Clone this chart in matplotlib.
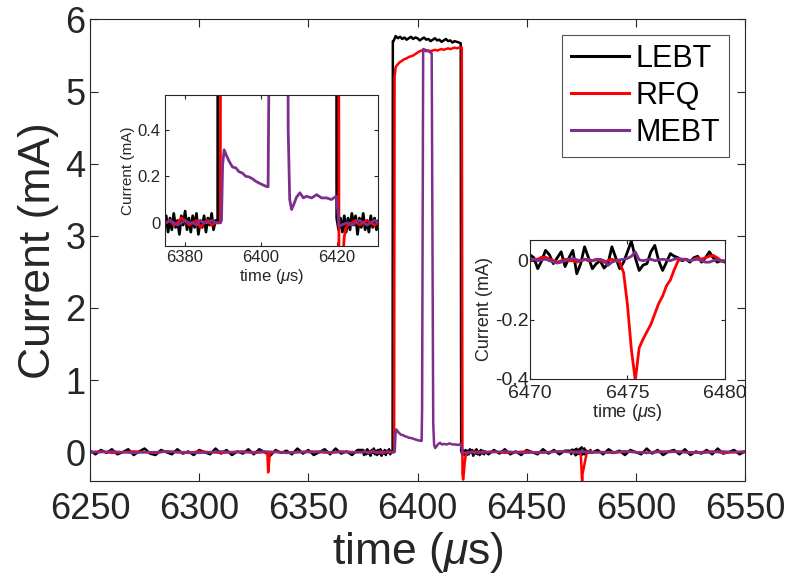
import numpy as np
import matplotlib
matplotlib.use("Agg")
import matplotlib.pyplot as plt
from matplotlib.ticker import FuncFormatter

plt.rcParams['font.family'] = ['Liberation Sans', 'DejaVu Sans']
plt.rcParams['mathtext.fontset'] = 'custom'
plt.rcParams['mathtext.rm'] = 'Liberation Sans'
plt.rcParams['mathtext.it'] = 'Liberation Sans:italic'

# ---------------------------------------------------------------- sample times (us)
t_left = np.arange(6250.0, 6375.0, 2.5)      # coarse, before the pulse
t_mid = np.arange(6432.5, 6470.0, 2.5)       # coarse, between pulse and glitch
t_right = np.arange(6482.5, 6550.1, 2.5)     # coarse, tail
t_pre = np.arange(6375.0, 6388.6, 0.5)       # fine, just before the pulse
t_post = np.arange(6422.0, 6431.1, 0.5)      # fine, just after the pulse
t_zoom = np.linspace(6470.0, 6480.0, 51)     # fine, around the RFQ glitch

t_left5 = np.arange(6250.0, 6375.0, 5.0)
t_mid5 = np.arange(6435.0, 6470.0, 5.0)
t_right5 = np.arange(6485.0, 6551.0, 5.0)
t_pre1 = np.arange(6375.0, 6389.0, 1.0)
t_post1 = np.arange(6423.0, 6432.0, 1.0)

# ---------------------------------------------------------------- LEBT (mA)
lebt_left = [0.02, -0.03, 0.03, -0.01, 0.04, -0.03, 0.00, 0.04, -0.04, 0.01,
             0.05, -0.02, -0.04, 0.03, 0.00, -0.03, 0.04, -0.02, 0.01, -0.04,
             0.03, 0.00, -0.03, 0.05, -0.02, 0.03, -0.04, 0.01, -0.02, 0.04,
             -0.03, 0.04, 0.00, -0.05, 0.03, -0.01, 0.02, -0.03, 0.05, -0.02,
             0.03, -0.04, 0.00, 0.04, -0.03, 0.05, -0.02, 0.01, -0.04, 0.03]
lebt_mid = [-0.03, 0.03, -0.02, 0.04, -0.03, 0.01, -0.04, 0.03, 0.00, -0.03,
            0.04, -0.02, 0.03, -0.03, 0.02]
lebt_right = [0.03, -0.03, 0.04, -0.01, 0.02, -0.04, 0.03, 0.00, -0.03, 0.05,
              -0.02, 0.03, -0.04, 0.01, 0.03, -0.03, 0.04, -0.04, 0.01, -0.02,
              0.03, -0.03, 0.05, -0.02, 0.00, 0.03, -0.03, 0.01]
lebt_pre = [0.03, -0.04, 0.02, -0.03, 0.04, -0.02, 0.01, -0.05, 0.03, -0.01,
            0.05, -0.03, 0.02, -0.04, 0.03, -0.02, 0.04, -0.05, 0.01, -0.02,
            0.03, -0.04, 0.02, -0.01, 0.04, -0.03, 0.01, 0.00]
lebt_pulse_t = [6388.6, 6388.7, 6389, 6390, 6391, 6392, 6393, 6394, 6395, 6396,
                6397, 6398, 6399, 6400, 6401, 6402, 6403, 6404, 6405, 6406,
                6407, 6408, 6409, 6410, 6411, 6412, 6413, 6414, 6415, 6416,
                6417, 6418, 6419, 6419.8, 6420.0, 6420.5, 6421.0, 6421.5]
lebt_pulse = [0.00, 5.70, 5.70, 5.77, 5.74, 5.76, 5.73, 5.75, 5.72, 5.74,
              5.76, 5.73, 5.75, 5.74, 5.71, 5.73, 5.75, 5.72, 5.73, 5.70,
              5.72, 5.74, 5.71, 5.72, 5.69, 5.71, 5.73, 5.70, 5.71, 5.68,
              5.70, 5.69, 5.68, 5.67, 0.02, -0.03, 0.02, -0.04]
lebt_post = [0.03, -0.04, 0.02, -0.03, 0.04, -0.01, 0.03, -0.05, 0.02, -0.02,
             0.04, -0.03, 0.01, -0.04, 0.03, -0.02, 0.02, -0.03, 0.01]
lebt_zoom = [0.020, 0.010, -0.027, 0.000, 0.035, 0.020, -0.010, 0.010, 0.030, -0.020,
             0.010, 0.035, -0.044, -0.010, 0.047, 0.010, -0.027, -0.010, 0.000, -0.025,
             -0.010, 0.047, 0.010, -0.027, -0.005, 0.030, 0.067, 0.010, -0.033, -0.015,
             -0.010, 0.030, 0.052, 0.000, -0.033, -0.005, 0.024, 0.015, 0.010, 0.000,
             0.005, -0.005, 0.010, 0.015, -0.005, 0.010, 0.030, 0.010, -0.005, 0.000,
             -0.005]

# ---------------------------------------------------------------- RFQ (mA)
rfq_left = [0.00, 0.01, -0.01, 0.00, 0.01, 0.00, -0.01, 0.01, 0.00, -0.01,
            0.01, 0.00, -0.01, 0.00, 0.01, -0.01, 0.00, 0.01, -0.01, 0.00,
            0.01, 0.00, -0.01, 0.01, 0.00]
rfq_glitch_t = [6331.2, 6331.6, 6332.0, 6332.3]
rfq_glitch = [0.00, -0.28, -0.15, -0.02]
rfq_mid = [0.01, -0.01, 0.00, 0.01, -0.01, 0.00, 0.01]
rfq_right = [0.00, -0.01, 0.01, 0.00, -0.01, 0.01, 0.00, 0.01, -0.01, 0.00,
             0.01, -0.01, 0.00, 0.01]
rfq_pre = [0.00, 0.01, -0.01, 0.00, 0.02, 0.01, -0.01, 0.00, 0.01, -0.02,
           0.00, 0.01, -0.01, 0.00]
rfq_pulse_t = [6389.3, 6389.5, 6390, 6391, 6392, 6393, 6394, 6395, 6396, 6397,
               6398, 6399, 6400, 6401, 6402, 6403, 6404, 6405, 6406, 6407,
               6408, 6409, 6410, 6411, 6412, 6413, 6414, 6415, 6416, 6417,
               6418, 6419, 6420.3, 6420.6, 6420.9, 6421.2, 6421.6, 6422.0, 6422.5]
rfq_pulse = [0.00, 5.20, 5.34, 5.38, 5.41, 5.43, 5.45, 5.46, 5.48, 5.49,
             5.50, 5.52, 5.54, 5.56, 5.57, 5.57, 5.56, 5.57, 5.56, 5.57,
             5.58, 5.57, 5.58, 5.59, 5.58, 5.59, 5.60, 5.59, 5.60, 5.61,
             5.60, 5.61, 5.61, -0.30, -0.38, -0.30, -0.15, -0.06, -0.02]
rfq_post = [-0.01, 0.00, 0.01, -0.01, 0.00, 0.01, 0.00, -0.01, 0.00]
rfq_zoom = [0.000, 0.005, 0.005, 0.012, 0.012, 0.005, 0.000, -0.005, 0.000, 0.005,
            0.000, 0.000, -0.005, 0.000, 0.005, 0.000, 0.000, 0.005, 0.000, -0.005,
            0.000, 0.005, 0.000, -0.005, -0.040, -0.150, -0.300, -0.405, -0.295, -0.265,
            -0.240, -0.215, -0.180, -0.145, -0.120, -0.085, -0.065, -0.030, 0.000, 0.005,
            0.005, 0.000, 0.005, 0.010, 0.005, 0.010, 0.015, 0.018, 0.010, 0.000,
            0.000]

# ---------------------------------------------------------------- MEBT (mA)
mebt_left = [0.00, 0.00, 0.01, 0.00, -0.01, 0.00, 0.00, 0.01, 0.00, 0.00,
             -0.01, 0.00, 0.01, 0.00, 0.00, 0.00, 0.01, 0.00, -0.01, 0.00,
             0.00, 0.01, 0.00, 0.00, 0.00]
mebt_mid = [0.00, 0.01, 0.00, -0.01, 0.00, 0.00, 0.01]
mebt_right = [0.00, 0.00, 0.01, 0.00, -0.01, 0.00, 0.01, 0.00, 0.00, -0.01,
              0.00, 0.01, 0.00, 0.00]
mebt_pre = [0.00, 0.01, 0.00, -0.01, 0.00, 0.01, 0.00, 0.00, -0.01, 0.01,
            0.00, 0.00, 0.01, 0.00]
mebt_pulse_t = [6389.3, 6389.6, 6389.9, 6390.3, 6390.9, 6391.6, 6392.5, 6393.4, 6394.2, 6395.1,
                6396.0, 6396.9, 6397.8, 6398.6, 6399.5, 6400.4, 6401.3, 6401.9, 6402.1, 6402.6,
                6403.5, 6404.5, 6405.5, 6406.5, 6407.2, 6407.6, 6408.1, 6408.7, 6409.4, 6410.3,
                6411.2, 6412.0, 6413.4, 6414.7, 6416.0, 6417.3, 6418.6, 6419.9, 6420.3, 6420.6,
                6421.3, 6422.0]
mebt_pulse = [0.000, 0.010, 0.250, 0.314, 0.290, 0.265, 0.240, 0.236, 0.220, 0.214,
              0.200, 0.197, 0.189, 0.179, 0.171, 0.164, 0.157, 0.155, 0.600, 5.590,
              5.580, 5.570, 5.550, 5.530, 0.400, 0.100, 0.057, 0.080, 0.110, 0.129,
              0.107, 0.114, 0.107, 0.121, 0.107, 0.107, 0.100, 0.114, 0.050, -0.014,
              -0.010, -0.005]
mebt_post = [0.00, -0.01, 0.00, 0.01, 0.00, -0.01, 0.00, 0.01, 0.00]
mebt_zoom = [0.003, 0.005, 0.000, 0.003, 0.005, 0.000, -0.005, -0.008, -0.005, 0.000,
             0.005, 0.008, 0.003, 0.000, 0.003, 0.005, 0.000, 0.003, 0.005, 0.000,
             -0.016, -0.005, 0.000, 0.003, 0.005, 0.008, 0.015, 0.030, 0.003, 0.000,
             0.003, 0.005, 0.000, 0.003, 0.005, 0.003, 0.000, 0.005, 0.008, 0.005,
             0.003, 0.000, 0.003, 0.005, 0.000, -0.005, -0.005, 0.000, 0.003, 0.000,
             -0.003]

labels = ['LEBT', 'RFQ', 'MEBT']
colors = ['#000000', '#ff0000', '#7e2f8e']


def trace(*segments):
    """Join (time, value) segments into one time-ordered trace."""
    t = np.concatenate([np.asarray(s[0], float) for s in segments])
    v = np.concatenate([np.asarray(s[1], float) for s in segments])
    order = np.argsort(t, kind='stable')
    return t[order], v[order]


traces = [
    trace((t_left, lebt_left), (t_pre, lebt_pre), (lebt_pulse_t, lebt_pulse),
          (t_post, lebt_post), (t_mid, lebt_mid), (t_zoom, lebt_zoom),
          (t_right, lebt_right)),
    trace((t_left5, rfq_left), (rfq_glitch_t, rfq_glitch), (t_pre1, rfq_pre),
          (rfq_pulse_t, rfq_pulse), (t_post1, rfq_post), (t_mid5, rfq_mid),
          (t_zoom, rfq_zoom), (t_right5, rfq_right)),
    trace((t_left5, mebt_left), (t_pre1, mebt_pre), (mebt_pulse_t, mebt_pulse),
          (t_post1, mebt_post), (t_mid5, mebt_mid), (t_zoom, mebt_zoom),
          (t_right5, mebt_right)),
]

AXC = '#262626'
g_fmt = FuncFormatter(lambda v, p: '%g' % v if abs(v) > 1e-9 else '0')


def style(a, size, ticklen):
    for sp in a.spines.values():
        sp.set_color(AXC)
        sp.set_linewidth(0.8)
    a.tick_params(direction='in', length=ticklen, width=0.8, color=AXC,
                  labelsize=size, labelcolor=AXC, top=True, right=True)


fig = plt.figure(figsize=(7.87, 5.80), dpi=100)

# ---------------------------------------------------------------- main axes
ax = fig.add_axes([0.1144, 0.1707, 0.8322, 0.7957])
for (t, v), lab, c in zip(traces, labels, colors):
    ax.plot(t, v, color=c, lw=1.8, label=lab)
ax.set_xlim(6250, 6550)
ax.set_ylim(-0.4, 6)
ax.set_xticks(np.arange(6250, 6551, 50))
ax.set_yticks(np.arange(0, 7, 1))
style(ax, 26, 6)
ax.tick_params(axis='x', pad=8)
ax.set_xlabel(r'time ($\mu$s)', fontsize=32, color=AXC, labelpad=2)
ax.set_ylabel('Current (mA)', fontsize=32, color=AXC, labelpad=4)
leg = ax.legend(loc='upper right', bbox_to_anchor=(0.9756, 0.9664),
                fontsize=22, frameon=True, fancybox=False, borderaxespad=0,
                handlelength=1.9, handletextpad=0.2, labelspacing=0.22,
                borderpad=0.3)
leg.get_frame().set_edgecolor(AXC)
leg.get_frame().set_linewidth(0.8)
for h in leg.get_lines():
    h.set_linewidth(2.2)

# ---------------------------------------------------------------- inset: pulse edges
ax1 = fig.add_axes([0.2097, 0.5759, 0.2706, 0.2603])
for (t, v), c in zip(traces, colors):
    ax1.plot(t, v, color=c, lw=2.0)
ax1.set_xlim(6374.7, 6430.9)
ax1.set_ylim(-0.1, 0.55)
ax1.set_xticks([6380, 6400, 6420])
ax1.set_yticks([0, 0.2, 0.4])
ax1.yaxis.set_major_formatter(g_fmt)
style(ax1, 12, 3)
ax1.tick_params(pad=3)
ax1.set_xlabel(r'time ($\mu$s)', fontsize=12, color=AXC, labelpad=1)
ax1.set_ylabel('Current (mA)', fontsize=11, color=AXC, labelpad=2)

# ---------------------------------------------------------------- inset: RFQ glitch
ax2 = fig.add_axes([0.6734, 0.3466, 0.2478, 0.2396])
for (t, v), c in zip(traces, colors):
    ax2.plot(t, v, color=c, lw=2.0)
ax2.set_xlim(6470, 6480)
ax2.set_ylim(-0.4, 0.07)
ax2.set_xticks([6470, 6475, 6480])
ax2.set_yticks([-0.4, -0.2, 0])
ax2.yaxis.set_major_formatter(g_fmt)
style(ax2, 14, 3)
ax2.tick_params(axis='y', pad=1)
ax2.tick_params(axis='x', pad=4)
ax2.set_xlabel(r'time ($\mu$s)', fontsize=13, color=AXC, labelpad=0)
ax2.set_ylabel('Current (mA)', fontsize=13, color=AXC, labelpad=1)

fig.savefig('out.png', dpi=100)
